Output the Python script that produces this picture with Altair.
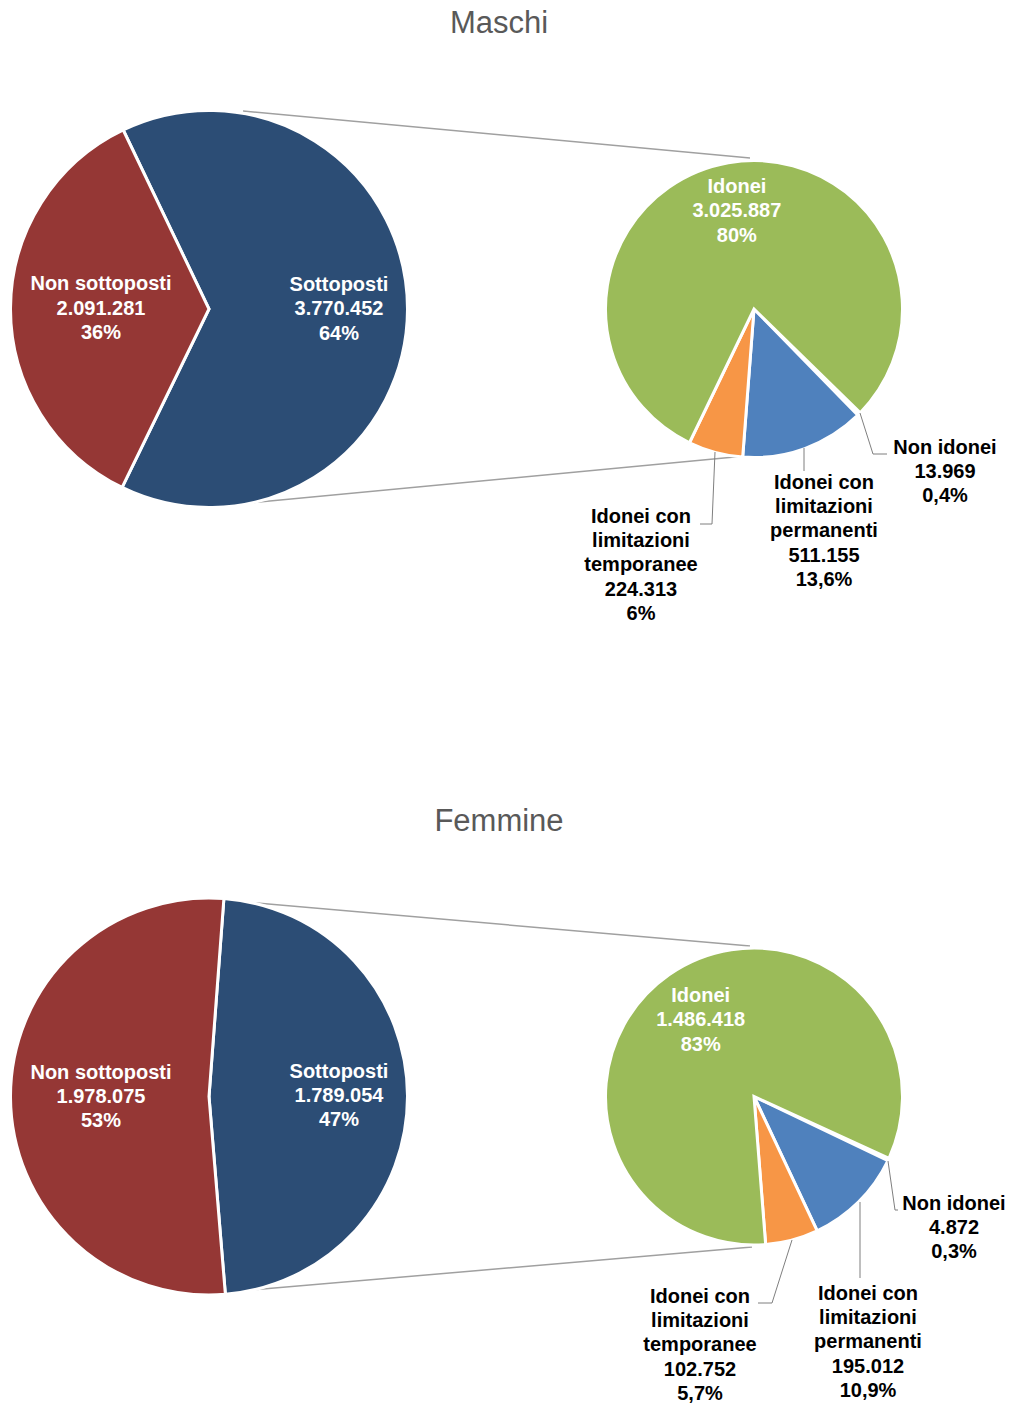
import math
import altair as alt
import pandas as pd

# ---------------- data ----------------
titles = ["Maschi", "Femmine"]

main_categories = ["Sottoposti", "Non sottoposti"]
main_values_m = [3770452, 2091281]
main_values_f = [1789054, 1978075]
main_pct_m = ["64%", "36%"]
main_pct_f = ["47%", "53%"]

sub_categories = ["Non idonei", "Idonei con limitazioni permanenti",
                  "Idonei con limitazioni temporanee", "Idonei"]
sub_label_names = ["Non idonei", "Idonei con\nlimitazioni\npermanenti",
                   "Idonei con\nlimitazioni\ntemporanee", "Idonei"]
sub_values_m = [13969, 511155, 224313, 3025887]
sub_values_f = [4872, 195012, 102752, 1486418]
sub_pct_m = ["0,4%", "13,6%", "6%", "80%"]
sub_pct_f = ["0,3%", "10,9%", "5,7%", "83%"]

# ---------------- styles / layout ----------------
FONT = "Liberation Sans, Arial, sans-serif"
FS = 20
LH = 24.3
main_colors = ["#2C4D75", "#953735"]
sub_colors = ["#FFFFFF", "#4F81BD", "#F79646", "#9BBB59"]

OFF = 8  # page margin
W, H = 999, 1398
panel_cy = [309, 1096.5]
big_cx, small_cx = 209, 754
big_r, small_r = 198.5, 148.5
big_start = [334.4, 4.3]      # degrees, clockwise from 12 o'clock
small_start = [134.3, 114.6]
big_label_r = [130, 108]
small_inside_r = [99, 93]

title_pos = [(499, 33), (499, 831)]

# centre of each outside label block
ext_pos = [
    [(945, 472), (824, 531.5), (641, 565.5)],
    [(954, 1228), (868, 1342.5), (700, 1345.5)],
]

leader_segments = [
    (860, 413, 873, 454), (873, 454, 887, 454),
    (804, 448, 804, 471),
    (715, 452, 712, 524), (712, 524, 700, 524),
    (888, 1161, 895, 1210), (895, 1210, 898, 1210),
    (860, 1202, 860, 1278),
    (792, 1240, 772, 1303), (772, 1303, 758, 1303),
]
connector_segments = [
    (243, 111, 750, 158), (250, 503, 745, 456),
    (245, 902, 750, 946), (240, 1291, 752, 1247),
]


def fmt(v):
    return f"{v:,}".replace(",", ".")


def pie_layers(df, cx, cy, r, start_deg, total, radii):
    a0 = math.radians(start_deg)
    theta = alt.Theta("value:Q", stack=True,
                      scale=alt.Scale(domain=[0, total], range=[a0, a0 + 2 * math.pi],
                                      nice=False, zero=True))
    base = alt.Chart(df).encode(theta=theta, order=alt.Order("idx:Q", sort="ascending"))
    out = [base.mark_arc(outerRadius=r, stroke="white", strokeWidth=3).encode(
        x=alt.value(cx), y=alt.value(cy), color=alt.Color("color:N", scale=None))]
    for rad in radii:
        out.append(
            base.transform_calculate(
                shown=f"datum.lr == {rad} ? datum.label : ''"
            ).mark_text(font=FONT, fontSize=FS, fontWeight="bold", color="white",
                        lineBreak="\n", lineHeight=LH, align="center",
                        baseline="middle", radius=rad, dy=-LH).encode(
                x=alt.value(cx), y=alt.value(cy), text="shown:N"))
    return out


layers = []
ext_rows = []
for p in range(2):
    cy = panel_cy[p] - OFF
    mv = [main_values_m, main_values_f][p]
    mp = [main_pct_m, main_pct_f][p]
    df_main = pd.DataFrame({
        "cat": main_categories,
        "value": mv,
        "idx": [0, 1],
        "color": main_colors,
        "label": [f"{c}\n{fmt(v)}\n{pc}" for c, v, pc in zip(main_categories, mv, mp)],
        "lr": big_label_r,
    })
    layers += pie_layers(df_main, big_cx - OFF, cy, big_r, big_start[p], sum(mv),
                         sorted(set(big_label_r)))

    sv = [sub_values_m, sub_values_f][p]
    sp = [sub_pct_m, sub_pct_f][p]
    df_sub = pd.DataFrame({
        "cat": sub_categories,
        "value": sv,
        "idx": [0, 1, 2, 3],
        "color": sub_colors,
        "label": [f"{n}\n{fmt(v)}\n{pc}" for n, v, pc in zip(sub_label_names, sv, sp)],
        "lr": [small_inside_r[p] if i == 3 else -1 for i in range(4)],
    })
    layers += pie_layers(df_sub, small_cx - OFF, cy, small_r, small_start[p], sum(sv),
                         [small_inside_r[p]])

    for i in range(3):
        x, y = ext_pos[p][i]
        label = f"{sub_label_names[i]}\n{fmt(sv[i])}\n{sp[i]}"
        n = label.count("\n") + 1
        ext_rows.append({"x": x - OFF, "y": y - OFF - (n - 1) / 2 * LH, "label": label})

ext_df = pd.DataFrame(ext_rows)
ext_text = alt.Chart(ext_df).mark_text(
    font=FONT, fontSize=FS, fontWeight="bold", color="#000000", lineBreak="\n",
    lineHeight=LH, align="center", baseline="middle").encode(
    x=alt.X("x:Q", scale=None, axis=None), y=alt.Y("y:Q", scale=None, axis=None),
    text="label:N")


def seg_df(segs):
    return pd.DataFrame([{"x": a - OFF, "y": b - OFF, "x2": c - OFF, "y2": d - OFF}
                         for a, b, c, d in segs])


connectors = alt.Chart(seg_df(connector_segments)).mark_rule(
    color="#A0A0A0", strokeWidth=1.5).encode(
    x=alt.X("x:Q", scale=None, axis=None), y=alt.Y("y:Q", scale=None, axis=None),
    x2="x2:Q", y2="y2:Q")
leaders = alt.Chart(seg_df(leader_segments)).mark_rule(
    color="#7F7F7F", strokeWidth=1).encode(
    x=alt.X("x:Q", scale=None, axis=None), y=alt.Y("y:Q", scale=None, axis=None),
    x2="x2:Q", y2="y2:Q")

title_df = pd.DataFrame({"title": titles,
                         "x": [t[0] - OFF for t in title_pos],
                         "y": [t[1] - OFF for t in title_pos]})
title_text = alt.Chart(title_df).mark_text(
    font=FONT, fontSize=31, color="#595959", align="center", baseline="alphabetic").encode(
    x=alt.X("x:Q", scale=None, axis=None), y=alt.Y("y:Q", scale=None, axis=None),
    text="title:N")

chart = alt.layer(connectors, *layers, leaders, ext_text, title_text).resolve_scale(
    theta="independent").properties(
    width=W, height=H, padding=0,
    autosize=alt.AutoSizeParams(type="none")).configure_view(stroke=None)

chart.save("out.html", embed_options={"renderer": "svg", "actions": False})
